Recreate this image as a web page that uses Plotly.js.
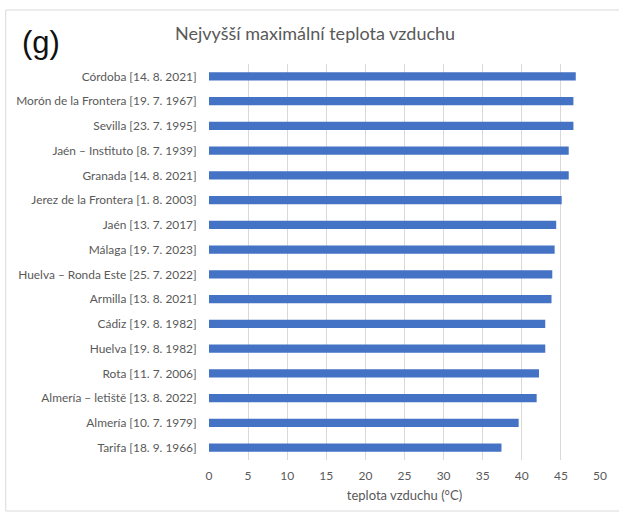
<!DOCTYPE html>
<html><head><meta charset="utf-8">
<script src="https://cdn.plot.ly/plotly-3.0.1.min.js"></script>
<style>html,body{margin:0;padding:0;background:#fff}#c{width:619px;height:515px}</style>
</head><body><div id="c"></div>
<script>
const stations = [
  "Córdoba [14. 8. 2021]",
  "Morón de la Frontera [19. 7. 1967]",
  "Sevilla [23. 7. 1995]",
  "Jaén – Instituto [8. 7. 1939]",
  "Granada [14. 8. 2021]",
  "Jerez de la Frontera [1. 8. 2003]",
  "Jaén [13. 7. 2017]",
  "Málaga [19. 7. 2023]",
  "Huelva – Ronda Este [25. 7. 2022]",
  "Armilla [13. 8. 2021]",
  "Cádiz [19. 8. 1982]",
  "Huelva [19. 8. 1982]",
  "Rota [11. 7. 2006]",
  "Almería – letiště [13. 8. 2022]",
  "Almería [10. 7. 1979]",
  "Tarifa [18. 9. 1966]"
];
const maxTemp = [46.9, 46.6, 46.6, 46.0, 46.0, 45.1, 44.4, 44.2, 43.9, 43.8, 43.0, 43.0, 42.2, 41.9, 39.6, 37.4];
const xTicks = [0, 5, 10, 15, 20, 25, 30, 35, 40, 45, 50];

const gray = '#595959';
const trace = {
  type: 'bar', orientation: 'h',
  x: maxTemp, y: stations,
  marker: {color: '#4472C4'},
  hoverinfo: 'x+y'
};
const layout = {
  width: 619, height: 515,
  margin: {l: 208.5, r: 19, t: 64, b: 55},
  paper_bgcolor: '#fff', plot_bgcolor: '#fff',
  font: {family: 'Lato, "Open Sans", sans-serif', color: gray, size: 11},
  bargap: 0.66,
  showlegend: false,
  xaxis: {
    range: [0, 50], tickvals: xTicks, ticktext: xTicks.map(String),
    showgrid: true, gridcolor: '#D9D9D9', gridwidth: 1,
    zeroline: false, showline: false,
    ticks: 'outside', ticklen: 5, tickcolor: 'rgba(0,0,0,0)',
    tickfont: {size: 12, color: gray},
    title: {text: 'teplota vzduchu (°C)', font: {size: 13, color: gray}, standoff: 8},
    fixedrange: true
  },
  yaxis: {
    type: 'category', autorange: 'reversed',
    showgrid: false, zeroline: false, showline: false,
    ticks: 'outside', ticklen: 9, tickcolor: 'rgba(0,0,0,0)',
    tickfont: {size: 11.9, color: gray},
    fixedrange: true
  },
  annotations: [
    {text: 'Nejvyšší maximální teplota vzduchu', xref: 'paper', yref: 'paper',
     x: (315 - 208.5) / (600 - 208.5), y: 1, yshift: 31, xanchor: 'center', yanchor: 'middle',
     showarrow: false, font: {size: 18, color: gray}},
    {text: '(g)', xref: 'paper', yref: 'paper',
     x: (19 - 208.5) / (600 - 208.5), y: 1, yshift: 22, xanchor: 'left', yanchor: 'middle',
     showarrow: false, font: {size: 31, color: '#111', family: 'Liberation Sans, Arial, sans-serif'}}
  ],
  shapes: [
    {type: 'rect', xref: 'paper', yref: 'paper',
     x0: (5 - 208.5) / (600 - 208.5), x1: (625 - 208.5) / (600 - 208.5),
     y0: (515 - 55 - 511) / (515 - 64 - 55), y1: (515 - 55 - 10) / (515 - 64 - 55),
     line: {color: '#D9D9D9', width: 1}, fillcolor: 'rgba(0,0,0,0)', layer: 'below'}
  ]
};
Plotly.newPlot('c', [trace], layout, {displayModeBar: false, staticPlot: true});
</script>
</body></html>
